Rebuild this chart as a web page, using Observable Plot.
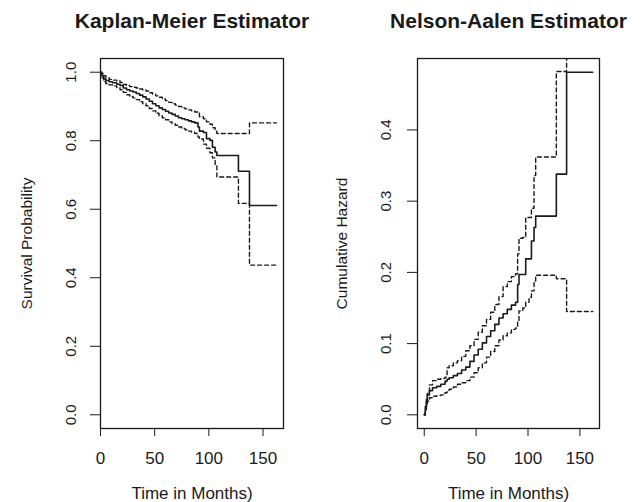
<!DOCTYPE html>
<html><head><meta charset="utf-8">
<script src="https://cdn.jsdelivr.net/npm/d3@7"></script>
<script src="https://cdn.jsdelivr.net/npm/@observablehq/plot@0.6"></script>
<style>
body{margin:0;background:#fff;}
#wrap{display:flex;width:640px;height:502px;}
</style></head><body><div id="wrap"></div>
<script>
// Kaplan-Meier estimate with 95% CI
const kmTime = [0,1,3,5,8,11,15,18,21,24,27,30,33,36,39,42,45,48,51,54,57,60,63,66,69,72,75,78,81,84,87,90,91.3,95,97.8,101,103.3,105.8,107.4,127.3,137.5,162.4];
const kmSurv = [1.0,0.990,0.980,0.976,0.972,0.969,0.965,0.961,0.954,0.949,0.945,0.942,0.938,0.933,0.928,0.922,0.915,0.908,0.902,0.896,0.891,0.886,0.881,0.877,0.872,0.867,0.864,0.861,0.858,0.855,0.852,0.840,0.828,0.824,0.806,0.801,0.781,0.767,0.757,0.711,0.611,0.611];
const kmUpper = [1.0,0.996,0.990,0.984,0.979,0.977,0.975,0.970,0.964,0.961,0.958,0.956,0.954,0.951,0.948,0.945,0.940,0.936,0.931,0.927,0.922,0.917,0.912,0.908,0.904,0.900,0.896,0.893,0.890,0.887,0.884,0.880,0.870,0.864,0.855,0.848,0.838,0.828,0.821,0.821,0.852,0.852];
const kmLower = [1.0,0.984,0.972,0.967,0.963,0.960,0.955,0.949,0.941,0.934,0.929,0.925,0.920,0.914,0.908,0.902,0.894,0.887,0.880,0.873,0.867,0.861,0.855,0.850,0.845,0.840,0.836,0.832,0.828,0.825,0.821,0.811,0.805,0.790,0.778,0.765,0.750,0.728,0.694,0.617,0.437,0.437];

// Nelson-Aalen cumulative hazard with 95% CI
const naTime = [0,1,2,3,5,8,12,16,20,22,24,28,32,36,40,44,48,52,56,60,64,68,72,76,80,84,88,90,91.3,95,97.8,101,103.3,105.8,107.4,127.3,137.2,162.4];
const naHaz = [0,0.008,0.018,0.028,0.034,0.038,0.040,0.043,0.047,0.050,0.052,0.055,0.058,0.063,0.067,0.075,0.084,0.092,0.101,0.110,0.118,0.127,0.136,0.142,0.148,0.154,0.158,0.183,0.197,0.197,0.219,0.219,0.244,0.263,0.279,0.338,0.481,0.481];
const naUpper = [0,0.012,0.022,0.030,0.042,0.048,0.050,0.051,0.053,0.066,0.069,0.073,0.076,0.082,0.090,0.097,0.106,0.116,0.125,0.134,0.144,0.155,0.166,0.180,0.187,0.194,0.198,0.226,0.248,0.249,0.277,0.277,0.290,0.336,0.362,0.482,0.95,0.95];
const naLower = [0,0.004,0.012,0.019,0.024,0.026,0.027,0.028,0.031,0.034,0.036,0.039,0.043,0.045,0.048,0.053,0.059,0.066,0.073,0.081,0.089,0.097,0.105,0.111,0.115,0.120,0.122,0.130,0.146,0.150,0.158,0.165,0.174,0.188,0.196,0.191,0.145,0.145];

const xTicks = [0, 50, 100, 150];
const kmYTicks = [0, 0.2, 0.4, 0.6, 0.8, 1.0];
const naYTicks = [0, 0.1, 0.2, 0.3, 0.4];
const titles = ["Kaplan-Meier Estimator", "Nelson-Aalen Estimator"];
const yLabels = ["Survival Probability", "Cumulative Hazard"];
const xLabel = "Time in Months)";

const kmRows = kmTime.map((t, i) => ({t, est: kmSurv[i], up: kmUpper[i], lo: kmLower[i]}));
const naRows = naTime.map((t, i) => ({t, est: naHaz[i], up: naUpper[i], lo: naLower[i]}));

const ink = "#1a1a1a";
const font = "'Liberation Sans', Arial, Helvetica, sans-serif";

function panel({title, ylabel, rows, xDomain, yDomain, yTicks, marginLeft, marginRight, yLabelDx, tickPad}) {
  return Plot.plot({
    width: 320, height: 502,
    marginTop: 58, marginBottom: 74, marginLeft, marginRight,
    style: {fontFamily: font, color: ink, background: "white", overflow: "visible"},
    x: {domain: xDomain},
    y: {domain: yDomain},
    marks: [
      Plot.lineY(rows, {x: "t", y: "up", curve: "step-after", stroke: ink, strokeWidth: 1.4, strokeDasharray: "4,3", clip: true}),
      Plot.lineY(rows, {x: "t", y: "lo", curve: "step-after", stroke: ink, strokeWidth: 1.4, strokeDasharray: "4,3", clip: true}),
      Plot.lineY(rows, {x: "t", y: "est", curve: "step-after", stroke: ink, strokeWidth: 1.6, clip: true}),
      Plot.frame({stroke: ink, strokeWidth: 1.3}),
      Plot.axisX({ticks: xTicks, tickSize: 8, tickPadding: 15, fontSize: 17, tickFormat: d => String(d), label: null}),
      Plot.axisY({ticks: yTicks, tickSize: 10, tickRotate: -90, tickPadding: tickPad, fontSize: 15, tickFormat: d => d.toFixed(1), label: null}),
      Plot.text([title], {text: d => d, frameAnchor: "top", dy: -37, fontSize: 21, fontWeight: "bold", lineAnchor: "middle"}),
      Plot.text([ylabel], {text: d => d, frameAnchor: "left", textAnchor: "middle", rotate: -90, dx: yLabelDx, fontSize: 15.5, lineAnchor: "middle"}),
      Plot.text([xLabel], {text: d => d, frameAnchor: "bottom", dy: 65, fontSize: 17, lineAnchor: "middle"})
    ]
  });
}

const wrap = document.getElementById("wrap");
wrap.append(panel({
  title: titles[0], ylabel: yLabels[0], rows: kmRows,
  xDomain: [0, 168.9], yDomain: [-0.04, 1.04], yTicks: kmYTicks,
  marginLeft: 100, marginRight: 37, yLabelDx: -73, tickPad: 15
}));
wrap.append(panel({
  title: titles[1], ylabel: yLabels[1], rows: naRows,
  xDomain: [-6.5, 168.9], yDomain: [-0.0192, 0.5003], yTicks: naYTicks,
  marginLeft: 97, marginRight: 41, yLabelDx: -75, tickPad: 17
}));
</script>
</body></html>
